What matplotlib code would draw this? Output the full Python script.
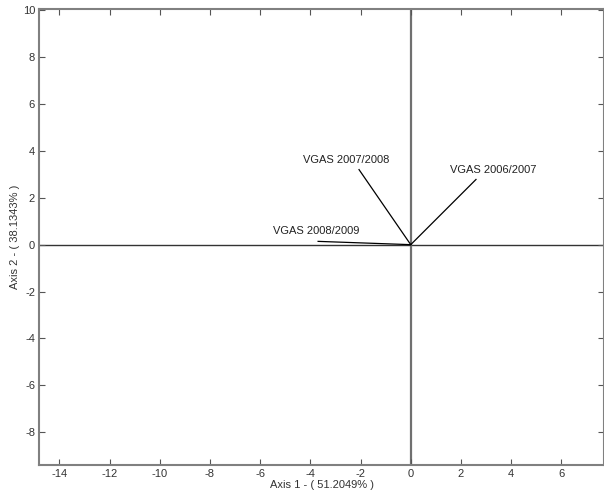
import numpy as np
import matplotlib.pyplot as plt

plt.rcParams['font.family'] = ['Liberation Sans', 'DejaVu Sans']

# vector end points (axis 1, axis 2)
names = ['VGAS 2006/2007', 'VGAS 2007/2008', 'VGAS 2008/2009']
ax1 = [2.6, -2.06, -3.69]
ax2 = [2.78, 3.2, 0.14]
# label anchor positions
lab_x = [1.57, -4.29, -5.47]
lab_y = [3.2, 3.59, 0.57]

xticks = np.arange(-14, 8, 2)
yticks = np.arange(-8, 11, 2)

fig = plt.figure(figsize=(6.04, 4.98), dpi=100)
ax = fig.add_axes([0.065, 0.067, 0.935, 0.915])

ax.axhline(0, color='#333333', lw=1.0, zorder=1)
ax.axvline(0, color='#707070', lw=1.6, zorder=1)

for i in range(len(names)):
    ax.plot([0, ax1[i]], [0, ax2[i]], color='black', lw=0.9)
    ax.text(lab_x[i], lab_y[i], names[i], fontsize=8, va='center', ha='left',
            color='#222222')

ax.set_xlim(-14.8, 7.7)
ax.set_ylim(-9.38, 10.05)
ax.set_xticks(xticks)
ax.set_yticks(yticks)
ax.tick_params(direction='in', top=True, right=True, length=4, width=0.8,
               color='#555555', labelsize=8, labelcolor='#333333', pad=3)
ax.set_xticklabels([str(t) for t in xticks])
ax.set_yticklabels([str(t) for t in yticks])
for s in ax.spines.values():
    s.set_color('#808080')
    s.set_linewidth(1.5)

ax.set_xlabel('Axis 1 - ( 51.2049% )', fontsize=8, color='#333333', labelpad=1)
ax.set_ylabel('Axis 2 - ( 38.1343% )', fontsize=8, color='#333333', labelpad=2)

fig.savefig('out.png', dpi=100)
